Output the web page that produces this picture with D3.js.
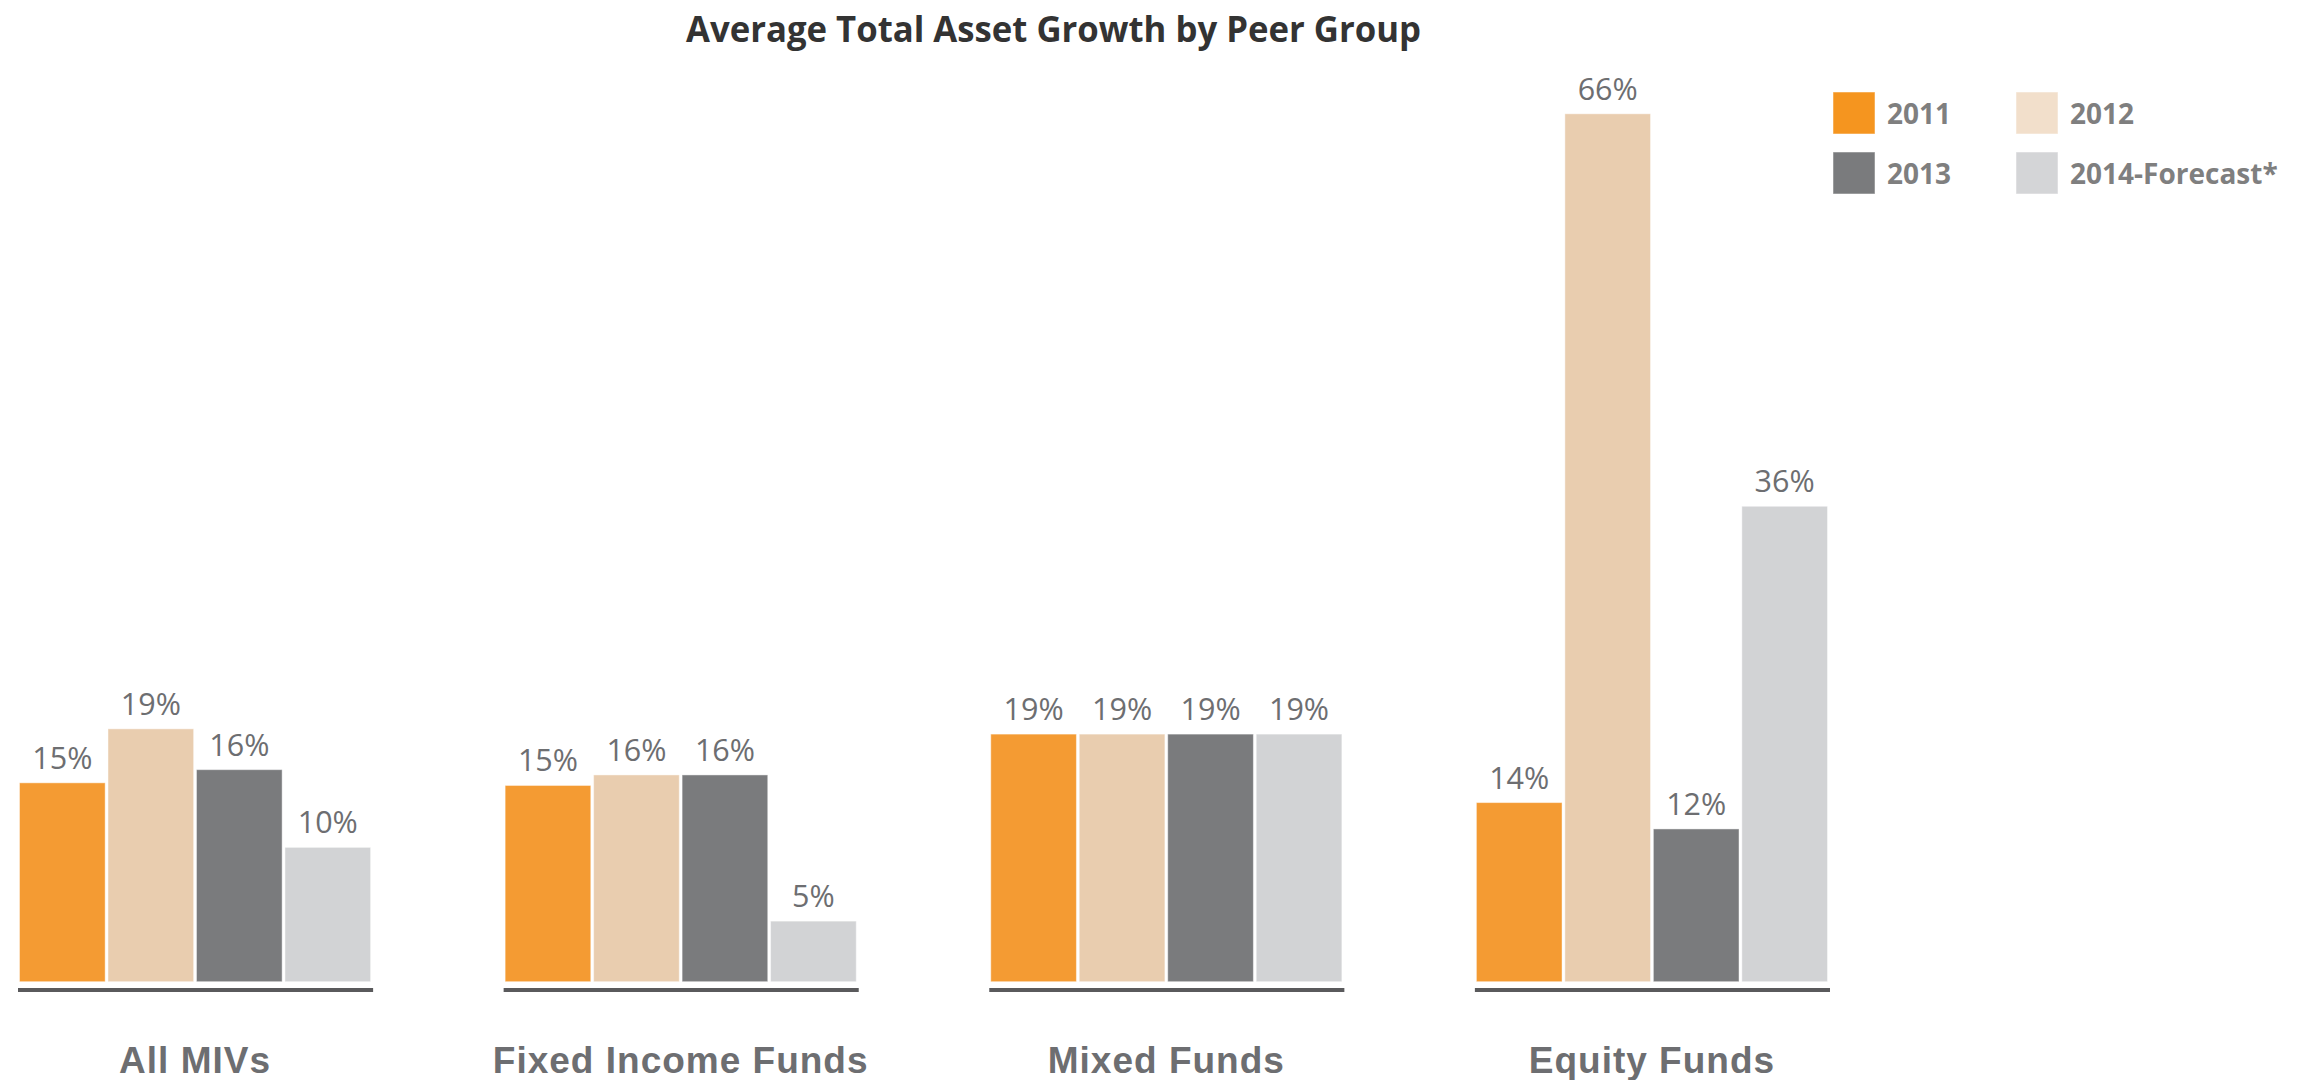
<!DOCTYPE html>
<html>
<head>
<meta charset="utf-8">
<script src="https://cdn.jsdelivr.net/npm/d3@7"></script>
<style>
  html, body { margin: 0; padding: 0; background: #fff; }
  svg { display: block; }
</style>
</head>
<body>
<svg id="chart" width="2304" height="1080"></svg>
<script>
// ---- data ----
const categories = ["All MIVs", "Fixed Income Funds", "Mixed Funds", "Equity Funds"];
const seriesNames = ["2011", "2012", "2013", "2014-Forecast*"];
const values2011 = [15.1, 14.9, 18.8, 13.6];
const values2012 = [19.2, 15.7, 18.8, 65.9];
const values2013 = [16.1, 15.7, 18.8, 11.6];
const values2014 = [10.2, 4.6, 18.8, 36.1];
const seriesValues = [values2011, values2012, values2013, values2014];
const barColors = ["#F49B33", "#E9CDAF", "#7A7B7D", "#D2D3D5"];
const legendColors = ["#F5951F", "#F2DFCB", "#7A7B7D", "#D4D5D7"];
const titleText = "Average Total Asset Growth by Peer Group";

const svg = d3.select("#chart");

// ---- scales ----
const x0 = d3.scaleBand().domain(categories).range([19.5, 1827.5]).paddingInner(0.277).paddingOuter(0);
const x1 = d3.scaleBand().domain(seriesNames).range([0, x0.bandwidth()]).paddingInner(0.032).paddingOuter(0);
const y = d3.scaleLinear().domain([0, 70]).range([981.7, 981.7 - 70 * 13.17]);

// ---- title ----
svg.append("text")
  .attr("x", 1053.5).attr("y", 41.7)
  .attr("text-anchor", "middle")
  .style("font-family", "'Open Sans', sans-serif")
  .style("font-weight", 700)
  .style("font-size", "35px")
  .style("fill", "#333333")
  .attr("textLength", 735)
  .attr("lengthAdjust", "spacingAndGlyphs")
  .text(titleText);

// ---- bars ----
const rows = categories.map((c, i) => ({
  cat: c,
  items: seriesNames.map((s, j) => ({ s, j, v: seriesValues[j][i] }))
}));

const groups = svg.selectAll("g.grp").data(rows).join("g")
  .attr("class", "grp")
  .attr("transform", d => `translate(${x0(d.cat)},0)`);

groups.selectAll("rect.bar").data(d => d.items).join("rect")
  .attr("class", "bar")
  .attr("x", d => x1(d.s))
  .attr("y", d => y(d.v))
  .attr("width", x1.bandwidth())
  .attr("height", d => y(0) - y(d.v))
  .attr("fill", d => barColors[d.j])
  .attr("stroke", "#ffffff")
  .attr("stroke-opacity", 0.45)
  .attr("stroke-width", 1);

groups.selectAll("text.val").data(d => d.items).join("text")
  .attr("class", "val")
  .attr("x", d => x1(d.s) + x1.bandwidth() / 2)
  .attr("y", d => y(d.v) - 14)
  .attr("text-anchor", "middle")
  .style("font-family", "'Open Sans', sans-serif")
  .style("font-size", "30.5px")
  .style("fill", "#6D6E71")
  .text(d => Math.round(d.v) + "%");

// baseline per group
groups.append("line")
  .attr("x1", -1.5)
  .attr("x2", x0.bandwidth() + 2.5)
  .attr("y1", 990).attr("y2", 990)
  .attr("stroke", "#5A5A5C")
  .attr("stroke-width", 4);

// category labels
groups.append("text")
  .attr("x", x0.bandwidth() / 2)
  .attr("y", 1072.7)
  .attr("text-anchor", "middle")
  .style("font-family", "'Liberation Sans', Arial, sans-serif")
  .style("font-weight", 700)
  .style("font-size", "37px")
  .style("letter-spacing", "1px")
  .style("fill", "#6D6E71")
  .text(d => d.cat);

// ---- legend ----
const legendCols = [1833, 2016];
const legendRows = [92, 152];
const lg = svg.append("g").attr("class", "legend");
const li = lg.selectAll("g").data(seriesNames).join("g")
  .attr("transform", (d, i) => `translate(${legendCols[i % 2]},${legendRows[Math.floor(i / 2)]})`);
li.append("rect")
  .attr("width", 42).attr("height", 42)
  .attr("fill", (d, i) => legendColors[i])
  .attr("stroke", "#ffffff").attr("stroke-opacity", 0.5).attr("stroke-width", 1);
li.append("text")
  .attr("x", 54).attr("y", 32)
  .style("font-family", "'Open Sans', sans-serif")
  .style("font-weight", 700)
  .style("font-size", "28px")
  .style("fill", "#7F7F7F")
  .text(d => d);
</script>
</body>
</html>
